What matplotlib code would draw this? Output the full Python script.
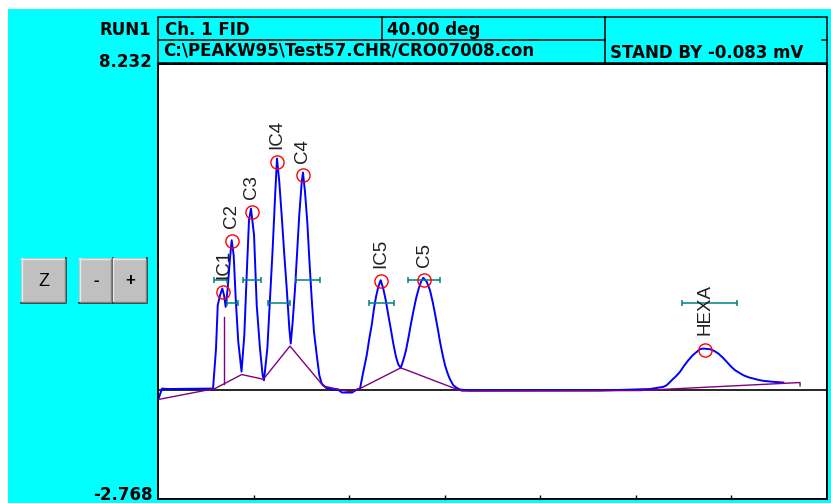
import matplotlib
matplotlib.use("Agg")
import matplotlib.pyplot as plt
from matplotlib.patches import Rectangle

# chromatogram trace (minutes, mV)
time_min = [0.010, 0.042, 0.105, 0.576, 0.607, 0.625, 0.649, 0.673, 0.691, 0.708,
            0.729, 0.753, 0.771, 0.792, 0.813, 0.840, 0.874, 0.903, 0.928, 0.952,
            0.973, 1.005, 1.033, 1.067, 1.095, 1.109, 1.144, 1.172, 1.200, 1.224,
            1.245, 1.269, 1.294, 1.322, 1.347, 1.374, 1.389, 1.409, 1.434, 1.458,
            1.478, 1.504, 1.517, 1.538, 1.562, 1.583, 1.608, 1.632, 1.661, 1.688,
            1.713, 1.758, 1.818, 1.883, 1.925, 2.030, 2.082, 2.114, 2.148, 2.184,
            2.211, 2.236, 2.260, 2.281, 2.305, 2.330, 2.357, 2.383, 2.410, 2.435,
            2.462, 2.490, 2.515, 2.540, 2.567, 2.595, 2.619, 2.644, 2.671, 2.700,
            2.728, 2.752, 2.776, 2.812, 2.846, 2.874, 2.898, 2.927, 2.951, 2.979,
            3.003, 3.031, 3.055, 3.090, 3.125, 3.160, 3.265, 4.625, 5.148, 5.287,
            5.323, 5.375, 5.420, 5.462, 5.504, 5.549, 5.595, 5.637, 5.671, 5.706,
            5.776, 5.818, 5.863, 5.909, 5.951, 5.993, 6.038, 6.083, 6.124, 6.177,
            6.229, 6.281, 6.333, 6.438, 6.543]
signal_mv = [-0.202, 0.025, 0.013, 0.025, 1.037, 2.132, 2.385, 2.554, 2.385, 2.091,
             2.554, 3.313, 3.775, 3.396, 2.301, 1.206, 0.455, 1.373, 2.890, 4.281,
             4.577, 3.902, 2.132, 1.037, 0.362, 0.235, 1.037, 2.301, 3.566, 4.830,
             5.842, 5.252, 4.408, 3.396, 2.554, 1.543, 1.163, 1.712, 2.554, 3.566,
             4.408, 5.252, 5.488, 4.999, 4.241, 3.313, 2.301, 1.459, 0.867, 0.362,
             0.152, 0.043, 0.008, 0.000, -0.076, -0.076, 0.000, 0.025, 0.448, 0.867,
             1.290, 1.626, 2.048, 2.344, 2.597, 2.764, 2.554, 2.258, 1.879, 1.543,
             1.163, 0.827, 0.632, 0.549, 0.741, 0.994, 1.290, 1.626, 1.965, 2.301,
             2.554, 2.724, 2.825, 2.724, 2.511, 2.218, 1.922, 1.543, 1.206, 0.867,
             0.615, 0.405, 0.260, 0.109, 0.043, 0.000, -0.025, -0.025, 0.013, 0.068,
             0.109, 0.235, 0.336, 0.448, 0.599, 0.741, 0.867, 0.953, 1.019, 1.037,
             1.019, 0.979, 0.910, 0.809, 0.700, 0.589, 0.488, 0.422, 0.362, 0.311,
             0.278, 0.245, 0.220, 0.195, 0.177]

# integration baseline
base_t = [0.0, 0.596, 0.876, 1.102, 1.381, 1.730, 2.009, 2.114, 2.540, 3.108,
          3.181, 5.043, 6.718, 6.718]
base_mv = [-0.253, 0.025, 0.379, 0.260, 1.100, 0.089, -0.058, 0.025, 0.549, 0.025,
           -0.038, -0.025, 0.177, 0.094]
drop_t = 0.694
drop_mv = [0.144, 1.846]

# identified peaks
peak_names = ["IC1", "C2", "C3", "IC4", "C4", "IC5", "C5", "HEXA"]
peak_t = [0.685, 0.774, 0.980, 1.245, 1.514, 2.330, 2.786, 5.724]
peak_mv = [2.478, 3.768, 4.501, 5.766, 5.419, 2.749, 2.782, 1.012]

# peak window markers
win_start = [0.591, 0.717, 0.889, 1.146, 1.447, 2.211, 2.619, 5.480]
win_end = [0.719, 0.834, 1.073, 1.381, 1.695, 2.473, 2.951, 6.062]
win_mv = [2.782, 2.200, 2.769, 2.192, 2.769, 2.192, 2.769, 2.200]

x_ticks = [1, 2, 3, 4, 5, 6]
y_top = 8.232
y_bottom = -2.768
run_label = "RUN1"
header_cells = ["Ch. 1 FID", "40.00 deg"]
file_path = "C:\\PEAKW95\\Test57.CHR/CRO07008.con"
status = "STAND BY -0.083 mV"

CYAN = "#00FFFF"
W, H = 831, 503

fig = plt.figure(figsize=(W / 100, H / 100), dpi=100, facecolor=CYAN)

# screen furniture drawn in pixel space
ui = fig.add_axes([0, 0, 1, 1])
ui.set_xlim(0, W)
ui.set_ylim(H, 0)
ui.axis("off")
ui.add_patch(Rectangle((0, 0), W, 9, facecolor="white", edgecolor="none"))
ui.add_patch(Rectangle((0, 0), 8, H, facecolor="white", edgecolor="none"))

lw = 1.1
ui.add_patch(Rectangle((158, 17), 669, 46, facecolor="none", edgecolor="black", lw=lw))
ui.plot([382, 382], [17, 40], color="black", lw=lw)
ui.plot([605, 605], [17, 63], color="black", lw=lw)
ui.plot([158, 605], [40, 40], color="black", lw=lw)
ui.plot([822, 827], [40, 40], color="black", lw=lw)

hdr = dict(family="DejaVu Sans", weight="bold", size=12, color="black", va="center")
ui.text(151, 29.5, run_label, ha="right", **hdr)
ui.text(165, 29.5, header_cells[0], ha="left", **hdr)
ui.text(387, 29.5, header_cells[1], ha="left", **hdr)
ui.text(163, 50.5, file_path, ha="left", **hdr)
ui.text(610, 53, status, ha="left", **hdr)
ui.text(152, 62, f"{y_top:.3f}", ha="right", **hdr)
ui.text(153, 495, f"{y_bottom:.3f}", ha="right", **hdr)


def button(x0, x1, label, bold):
    ui.add_patch(Rectangle((x0, 258), x1 - x0, 45, facecolor="#C0C0C0", edgecolor="none"))
    ui.plot([x0, x1], [258.5, 258.5], color="#E8E8E8", lw=1)
    ui.plot([x0 + 0.5, x0 + 0.5], [258, 303], color="#E8E8E8", lw=1)
    ui.plot([x0, x1, x1], [303, 303, 258], color="#303030", lw=1.3)
    ui.plot([x0 + 1, x1 - 1.5, x1 - 1.5], [301.5, 301.5, 259], color="#808080", lw=1)
    ui.text((x0 + x1) / 2, 281, label, ha="center", va="center",
            family="Liberation Sans", size=13 if not bold else 12,
            weight="bold" if bold else "normal", color="black")


button(21, 66, "Z", False)
button(79, 112.5, "-", True)
button(112.5, 147, "+", True)

# chromatogram
ax = fig.add_axes([158 / W, (H - 499) / H, 669 / W, 435 / H])
ax.set_facecolor("white")
ax.set_xlim(0, 7)
ax.set_ylim(y_bottom, y_top)
for s in ax.spines.values():
    s.set_linewidth(1.4)
    s.set_color("black")
ax.set_xticks(x_ticks)
ax.set_yticks([])
ax.tick_params(axis="x", direction="in", length=3, width=1, labelbottom=False)

ax.axhline(0, color="black", lw=1.2, zorder=1)
ax.plot(time_min, signal_mv, color="#0000FF", lw=1.4, zorder=2)
ax.plot(base_t, base_mv, color="#800080", lw=1.0, zorder=3)
ax.plot([drop_t, drop_t], drop_mv, color="#800080", lw=1.0, zorder=3)

centers = [(a + b) / 2 for a, b in zip(win_start, win_end)]
half = [(b - a) / 2 for a, b in zip(win_start, win_end)]
ax.errorbar(centers, win_mv, xerr=half, fmt="none", ecolor="#008080",
            elinewidth=1.1, capsize=2.2, capthick=1.1, zorder=4)

ax.plot(peak_t, peak_mv, "o", ms=9.5, mfc="none", mec="#FF0000", mew=1.0, zorder=5)
for name, t, v in zip(peak_names, peak_t, peak_mv):
    lift = 10.5 if name == "HEXA" else 9
    ax.annotate(name, (t, v), xytext=(0, lift), textcoords="offset points",
                rotation=90, ha="center", va="bottom", family="Liberation Sans",
                size=13.5, color="#202020", zorder=6)

fig.savefig("out.png", dpi=100, facecolor=CYAN)
